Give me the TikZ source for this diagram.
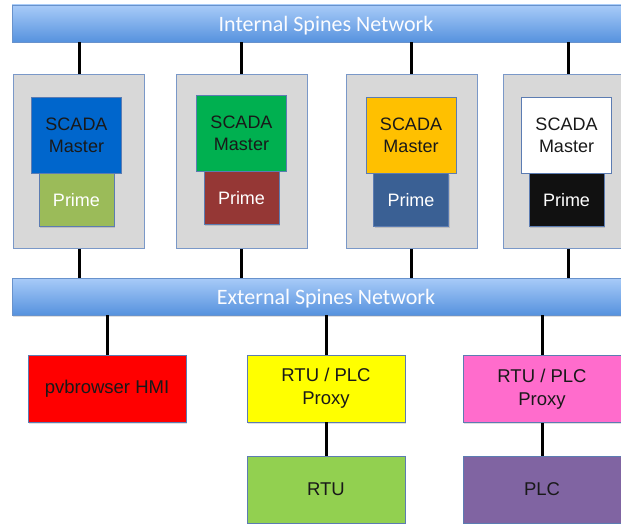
\documentclass[tikz,border=0pt]{standalone}
\usepackage{fontspec}
\setmainfont{Liberation Sans}
\newfontfamily\barfont{Carlito}
\usetikzlibrary{positioning, shadows}

\definecolor{barTop}{RGB}{168,203,248}
\definecolor{barBot}{RGB}{86,146,222}
\definecolor{barEdge}{RGB}{104,146,204}
\definecolor{hostGrey}{RGB}{216,216,216}
\definecolor{hostEdge}{RGB}{122,152,200}
\definecolor{unitEdge}{RGB}{92,124,178}
\definecolor{masterA}{RGB}{0,102,204}
\definecolor{primeA}{RGB}{155,187,89}
\definecolor{masterB}{RGB}{0,176,80}
\definecolor{primeB}{RGB}{149,55,53}
\definecolor{masterC}{RGB}{255,192,0}
\definecolor{primeC}{RGB}{58,96,148}
\definecolor{masterD}{RGB}{255,255,255}
\definecolor{primeD}{RGB}{17,17,17}
\definecolor{hmiRed}{RGB}{255,0,0}
\definecolor{proxyYellow}{RGB}{255,255,0}
\definecolor{proxyPink}{RGB}{255,108,204}
\definecolor{rtuGreen}{RGB}{146,208,80}
\definecolor{plcPurple}{RGB}{128,100,162}

\begin{document}
\begin{tikzpicture}[x=1pt, y=-1pt]
\tikzset{
  netbar/.style={draw=barEdge, line width=0.8pt, top color=barTop, bottom color=barBot,
    minimum width=628pt, minimum height=37pt, inner sep=0pt, text depth=0pt,
    text=white!95!barTop, font=\barfont\fontsize{22}{24}\selectfont,
    drop shadow={shadow xshift=1pt, shadow yshift=-1.5pt, opacity=0.25}},
  host/.style={draw=hostEdge, line width=0.9pt, fill=hostGrey,
    minimum width=131pt, minimum height=174pt, inner sep=0pt},
  master/.style={draw=unitEdge, line width=0.7pt, fill=#1, text=black!90,
    minimum width=90pt, minimum height=76pt, inner sep=0pt, align=center,
    font=\fontsize{18}{22}\selectfont},
  prime/.style={draw=unitEdge, line width=0.7pt, fill=#1, text=white,
    minimum width=75pt, minimum height=53pt, inner sep=0pt,
    font=\fontsize{18}{21}\selectfont,
    drop shadow={shadow xshift=1pt, shadow yshift=-1.5pt, opacity=0.3}},
  unit/.style={draw=unitEdge, line width=0.8pt, fill=#1, text=black!90,
    minimum width=158pt, minimum height=67pt, inner sep=0pt, align=center,
    font=\fontsize{18.5}{23}\selectfont,
    drop shadow={shadow xshift=1pt, shadow yshift=-1.5pt, opacity=0.25}},
  wire/.style={line width=3pt, black}
}

\useasboundingbox (0,0) rectangle (621,524);
\clip (0,0) rectangle (621,524);
\fill[white] (0,0) rectangle (621,524);

% the two spine networks
\node[netbar] (inet) at (326,23.5) {Internal Spines Network};
\node[netbar] (enet) at (326,296.5) {External Spines Network};

% SCADA sites
\node[host] (h1) at (79,161.5) {};
\node[host] (h2) at (241.5,161.5) {};
\node[host] (h3) at (411.5,161.5) {};
\node[host] (h4) at (568.5,161.5) {};

\node[master=masterA] (m1) at (76.5,135) {SCADA\\Master};
\node[prime=primeA, below=0pt of m1] (p1) {Prime};
\node[master=masterB] (m2) at (241.5,133) {SCADA\\Master};
\node[prime=primeB, below=0pt of m2] (p2) {Prime};
\node[master=masterC] (m3) at (411,135) {SCADA\\Master};
\node[prime=primeC, below=0pt of m3] (p3) {Prime};
\node[master=masterD] (m4) at (566.5,135) {SCADA\\Master};
\node[prime=primeD, below=0pt of m4] (p4) {Prime};

\draw[wire] (inet.south -| h1) -- (h1.north);
\draw[wire] (inet.south -| h2) -- (h2.north);
\draw[wire] (inet.south -| h3) -- (h3.north);
\draw[wire] (inet.south -| h4) -- (h4.north);
\draw[wire] (h1.south) -- (enet.north -| h1);
\draw[wire] (h2.south) -- (enet.north -| h2);
\draw[wire] (h3.south) -- (enet.north -| h3);
\draw[wire] (h4.south) -- (enet.north -| h4);

% field side
\node[unit=hmiRed] (hmi) at (107,388.5) {pvbrowser HMI};
\node[unit=proxyYellow] (px1) at (326,388.5) {RTU / PLC\\Proxy};
\node[unit=proxyPink] (px2) at (542,389) {RTU / PLC\\Proxy};
\node[unit=rtuGreen] (rtu) at (326,489.5) {RTU};
\node[unit=plcPurple] (plc) at (542,489.5) {PLC};

\draw[wire] (enet.south -| hmi) -- (hmi.north);
\draw[wire] (enet.south -| px1) -- (px1.north);
\draw[wire] (enet.south -| px2) -- (px2.north);
\draw[wire] (px1.south) -- (rtu.north);
\draw[wire] (px2.south) -- (plc.north);
\end{tikzpicture}
\end{document}
